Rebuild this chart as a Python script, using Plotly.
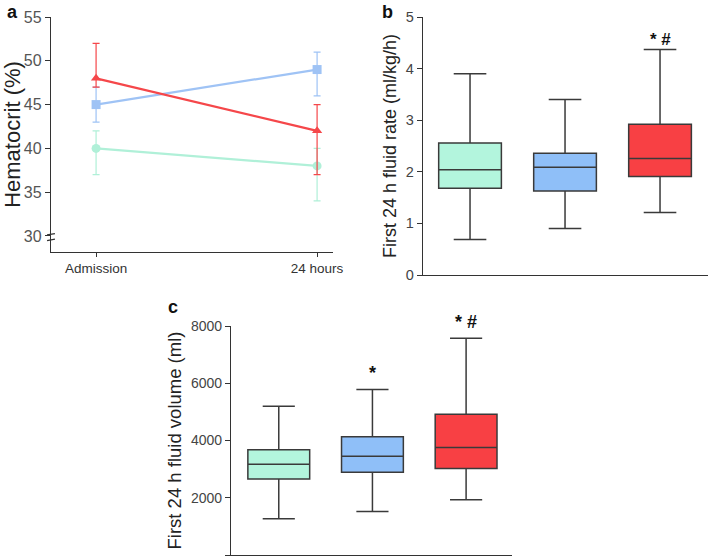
import plotly.graph_objects as go

# ---------------- data ----------------
timepoints = ["Admission", "24 hours"]
hct_green = [40, 38]
hct_green_hi = [42, 40]
hct_green_lo = [37, 34]
hct_blue = [45, 49]
hct_blue_hi = [47, 51]
hct_blue_lo = [43, 46]
hct_red = [48, 42]
hct_red_hi = [52, 45]
hct_red_lo = [47, 37]

groups = ["G1", "G2", "G3"]
rate_low = [0.69, 0.90, 1.21]
rate_q1 = [1.68, 1.63, 1.91]
rate_med = [2.04, 2.09, 2.26]
rate_q3 = [2.56, 2.36, 2.92]
rate_high = [3.90, 3.40, 4.37]
rate_marks = ["", "", "* #"]
rate_mark_y = [4.57, 4.57, 4.57]

vol_low = [1267, 1523, 1930]
vol_q1 = [2651, 2895, 3023]
vol_med = [3174, 3453, 3756]
vol_q3 = [3674, 4128, 4919]
vol_high = [5200, 5779, 7570]
vol_marks = ["", "*", "* #"]
vol_mark_y = [0, 6350, 8150]

fills = ["#b3f5dd", "#8fbff8", "#f84044"]
line_cols = ["#b0f0d8", "#9fc3f5", "#f5474a"]

W, H = 709, 560
def fx(px): return px / W
def fy(py): return 1 - py / H

fig = go.Figure()

# ---------- panel a ----------
xs = list(range(len(timepoints)))
series = [
    (hct_green, hct_green_hi, hct_green_lo, "circle", line_cols[0]),
    (hct_blue, hct_blue_hi, hct_blue_lo, "square", line_cols[1]),
    (hct_red, hct_red_hi, hct_red_lo, "triangle-up", line_cols[2]),
]
for vals, hi, lo, sym, col in series:
    fig.add_trace(go.Scatter(
        x=xs, y=vals, mode="lines+markers",
        line=dict(color=col, width=2.2),
        marker=dict(symbol=sym, size=9, color=col),
        error_y=dict(type="data", symmetric=False,
                     array=[h - v for h, v in zip(hi, vals)],
                     arrayminus=[v - l for v, l in zip(vals, lo)],
                     color=col, thickness=1.2, width=3.5),
        xaxis="x", yaxis="y", showlegend=False, cliponaxis=False))

# ---------- panel b ----------
for i in range(3):
    fig.add_trace(go.Box(
        x=[i], q1=[rate_q1[i]], median=[rate_med[i]], q3=[rate_q3[i]],
        lowerfence=[rate_low[i]], upperfence=[rate_high[i]],
        fillcolor=fills[i], line=dict(color="#3a3a3a", width=1.5),
        width=0.66, whiskerwidth=0.52, boxpoints=False,
        xaxis="x2", yaxis="y2", showlegend=False, hoverinfo="skip"))

# ---------- panel c ----------
for i in range(3):
    fig.add_trace(go.Box(
        x=[i], q1=[vol_q1[i]], median=[vol_med[i]], q3=[vol_q3[i]],
        lowerfence=[vol_low[i]], upperfence=[vol_high[i]],
        fillcolor=fills[i], line=dict(color="#3a3a3a", width=1.5),
        width=0.66, whiskerwidth=0.52, boxpoints=False,
        xaxis="x3", yaxis="y3", showlegend=False, hoverinfo="skip"))

FONT = "Liberation Sans, Arial"
axis_common = dict(showline=True, linecolor="#333", linewidth=1.3, showgrid=False,
                   zeroline=False, ticks="outside", tickcolor="#333", ticklen=5,
                   automargin=False,
                   tickfont=dict(family=FONT, size=14, color="#444"))

fig.update_layout(
    width=W, height=H, margin=dict(l=0, r=0, t=0, b=0, autoexpand=False),
    paper_bgcolor="white", plot_bgcolor="white",
    font=dict(family=FONT, color="#222"),
    xaxis=dict(axis_common, domain=[fx(51), fx(333)], range=[-0.204, 1.072],
               tickvals=xs, ticktext=timepoints, anchor="y", ticklen=4,
               tickfont=dict(family=FONT, size=13.5, color="#333")),
    yaxis=dict(axis_common, domain=[fy(252), fy(17)], range=[28.17, 55],
               tickvals=[30, 35, 40, 45, 50, 55], anchor="x",
               tickfont=dict(family=FONT, size=16, color="#555"),
               title=dict(text="Hematocrit (%)", font=dict(family=FONT, size=22, color="#222"), standoff=4)),
    xaxis2=dict(axis_common, domain=[fx(423), fx(708)], range=[-0.495, 2.505],
                showticklabels=False, ticks="", anchor="y2"),
    yaxis2=dict(axis_common, domain=[fy(275), fy(17)], range=[0, 5],
                tickvals=[0, 1, 2, 3, 4, 5], anchor="x2",
                tickfont=dict(family=FONT, size=14.5, color="#444"),
                title=dict(text="First 24 h fluid rate (ml/kg/h)", font=dict(family=FONT, size=18, color="#222"), standoff=4)),
    xaxis3=dict(axis_common, domain=[fx(231), fx(512)], range=[-0.51, 2.49],
                showticklabels=False, ticks="", anchor="y3"),
    yaxis3=dict(axis_common, domain=[fy(555), fy(326)], range=[0, 8000],
                tickvals=[0, 2000, 4000, 6000, 8000], anchor="x3",
                tickfont=dict(family=FONT, size=14, color="#444"),
                title=dict(text="First 24 h fluid volume (ml)", font=dict(family=FONT, size=18.5, color="#222"), standoff=4)),
)

# axis break marks on panel a y axis
for yv in [29.55, 30.2]:
    fig.add_shape(type="line", xref="x domain", yref="y", x0=-0.014, x1=0.014,
                  y0=yv - 0.08, y1=yv + 0.08, line=dict(color="#333", width=1.3))

# significance marks (placed via paper coords converted from data values)
def to_paper(val, lo, hi, d0, d1):
    return d0 + (val - lo) / (hi - lo) * (d1 - d0)

for i, (t, yv) in enumerate(zip(rate_marks, rate_mark_y)):
    if t:
        fig.add_annotation(x=i, y=to_paper(yv, 0, 5, fy(275), fy(17)), xref="x2", yref="paper",
                           text="<b>" + t + "</b>", showarrow=False,
                           xanchor="center", yanchor="middle",
                           font=dict(family=FONT, size=17, color="#111"))
for i, (t, yv) in enumerate(zip(vol_marks, vol_mark_y)):
    if t:
        fig.add_annotation(x=i, y=to_paper(yv, 0, 8000, fy(555), fy(326)), xref="x3", yref="paper",
                           text="<b>" + t + "</b>", showarrow=False,
                           xanchor="center", yanchor="middle",
                           font=dict(family=FONT, size=18, color="#111"))

# panel letters
for letter, px, py in [("a", 12, 12), ("b", 387, 12), ("c", 173, 307)]:
    fig.add_annotation(x=fx(px), y=fy(py), xref="paper", yref="paper", text="<b>" + letter + "</b>",
                       showarrow=False, xanchor="center", yanchor="middle",
                       font=dict(family=FONT, size=18, color="#111"))

fig.write_html("out.html", config={"displayModeBar": False},
               post_script="document.body.style.margin='0';document.body.style.padding='0';")
